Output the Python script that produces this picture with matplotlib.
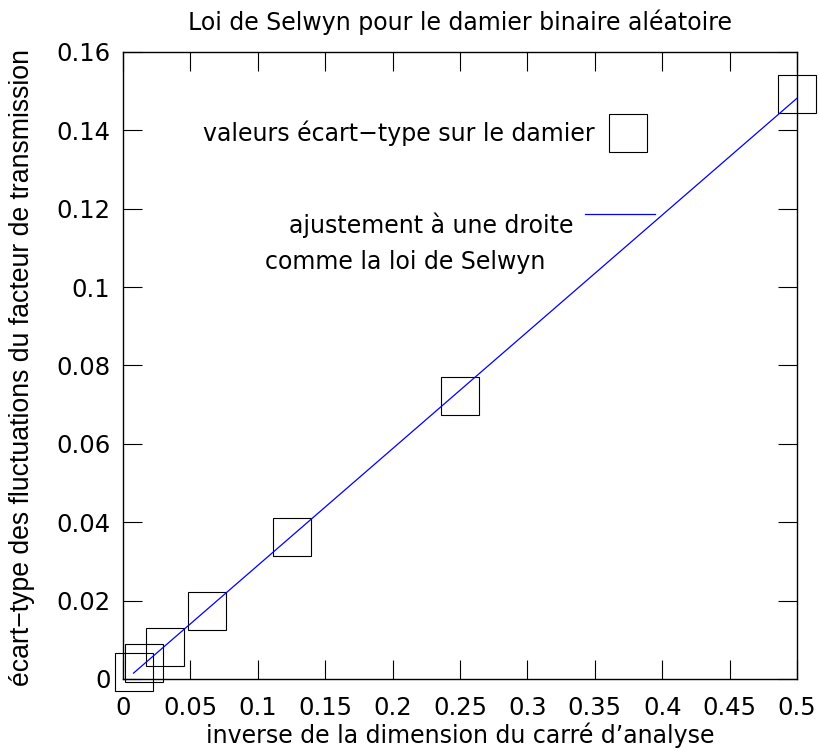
#!/usr/bin/env python3

import numpy as np
import matplotlib
matplotlib.use( 'Agg' )
import matplotlib.pyplot as plt

plt.rcParams['font.family'] = [ 'DejaVu Sans' ]

# inverse de la dimension du carre d'analyse (1/128 ... 1/2)
inv_dim = [ 1/128, 1/64, 1/32, 1/16, 1/8, 1/4, 1/2 ]
# ecart-type mesure
sigma   = [ 0.0018, 0.0042, 0.0082, 0.0174, 0.0362, 0.0722, 0.1492 ]

# droite ajustee (extremites)
fit_x = [ 1/128, 1/2 ]
fit_y = [ 0.0015, 0.1482 ]

xticks = [ 0, 0.05, 0.1, 0.15, 0.2, 0.25, 0.3, 0.35, 0.4, 0.45, 0.5 ]
xtlab  = [ '0', '0.05', '0.1', '0.15', '0.2', '0.25', '0.3', '0.35', '0.4', '0.45', '0.5' ]
yticks = [ 0, 0.02, 0.04, 0.06, 0.08, 0.1, 0.12, 0.14, 0.16 ]
ytlab  = [ '0', '0.02', '0.04', '0.06', '0.08', '0.1', '0.12', '0.14', '0.16' ]

fs = 17

fig = plt.figure( figsize = ( 8.2, 7.51 ), dpi = 100 )
ax  = fig.add_axes( [ 0.15, 0.0959, 0.822, 0.8349 ] )

ax.plot( inv_dim, sigma, ls = 'none', marker = 's', ms = 27, \
         mfc = 'none', mec = 'black', mew = 0.8, clip_on = False )
ax.plot( fit_x, fit_y, c = '#0000ff', lw = 0.9 )

ax.set_xlim( 0, 0.5 )
ax.set_ylim( 0, 0.16 )
ax.set_xticks( xticks )
ax.set_xticklabels( xtlab )
ax.set_yticks( yticks )
ax.set_yticklabels( ytlab )
ax.tick_params( which = 'both', direction = 'in', top = True, right = True, \
                length = 14, width = 0.8, labelsize = 17.5 )
ax.tick_params( axis = 'y', pad = 9 )
ax.tick_params( axis = 'x', pad = 12 )
for s in ax.spines.values():
    s.set_linewidth( 1.0 )

# legende facon gnuplot
ax.text( 0.7003, 0.8708, 'valeurs écart\u2212type sur le damier', \
         transform = ax.transAxes, ha = 'right', va = 'center', fontsize = fs )
ax.plot( [ 0.749 ], [ 0.871 ], transform = ax.transAxes, marker = 's', \
         ms = 27, mfc = 'none', mec = 'black', mew = 0.8, clip_on = False )
ax.text( 0.6677, 0.724, 'ajustement à une droite', \
         transform = ax.transAxes, ha = 'right', va = 'center', fontsize = fs )
ax.text( 0.626, 0.665, 'comme la loi de Selwyn', \
         transform = ax.transAxes, ha = 'right', va = 'center', fontsize = fs )
ax.plot( [ 0.6855, 0.789 ], [ 0.7416, 0.7416 ], transform = ax.transAxes, \
         c = '#0000ff', lw = 0.9 )

fig.text( 0.561, 0.9707, 'Loi de Selwyn pour le damier binaire aléatoire', \
          ha = 'center', va = 'center', fontsize = fs )
fig.text( 0.561, 0.0213, 'inverse de la dimension du carré d\u2019analyse', \
          ha = 'center', va = 'center', fontsize = fs )
fig.text( 0.0268, 0.511, \
          'écart\u2212type des fluctuations du facteur de transmission', \
          ha = 'center', va = 'center', rotation = 90, fontsize = 19.2, \
          family = 'Liberation Sans' )

plt.savefig( 'out.png', dpi = 100 )
plt.close()
